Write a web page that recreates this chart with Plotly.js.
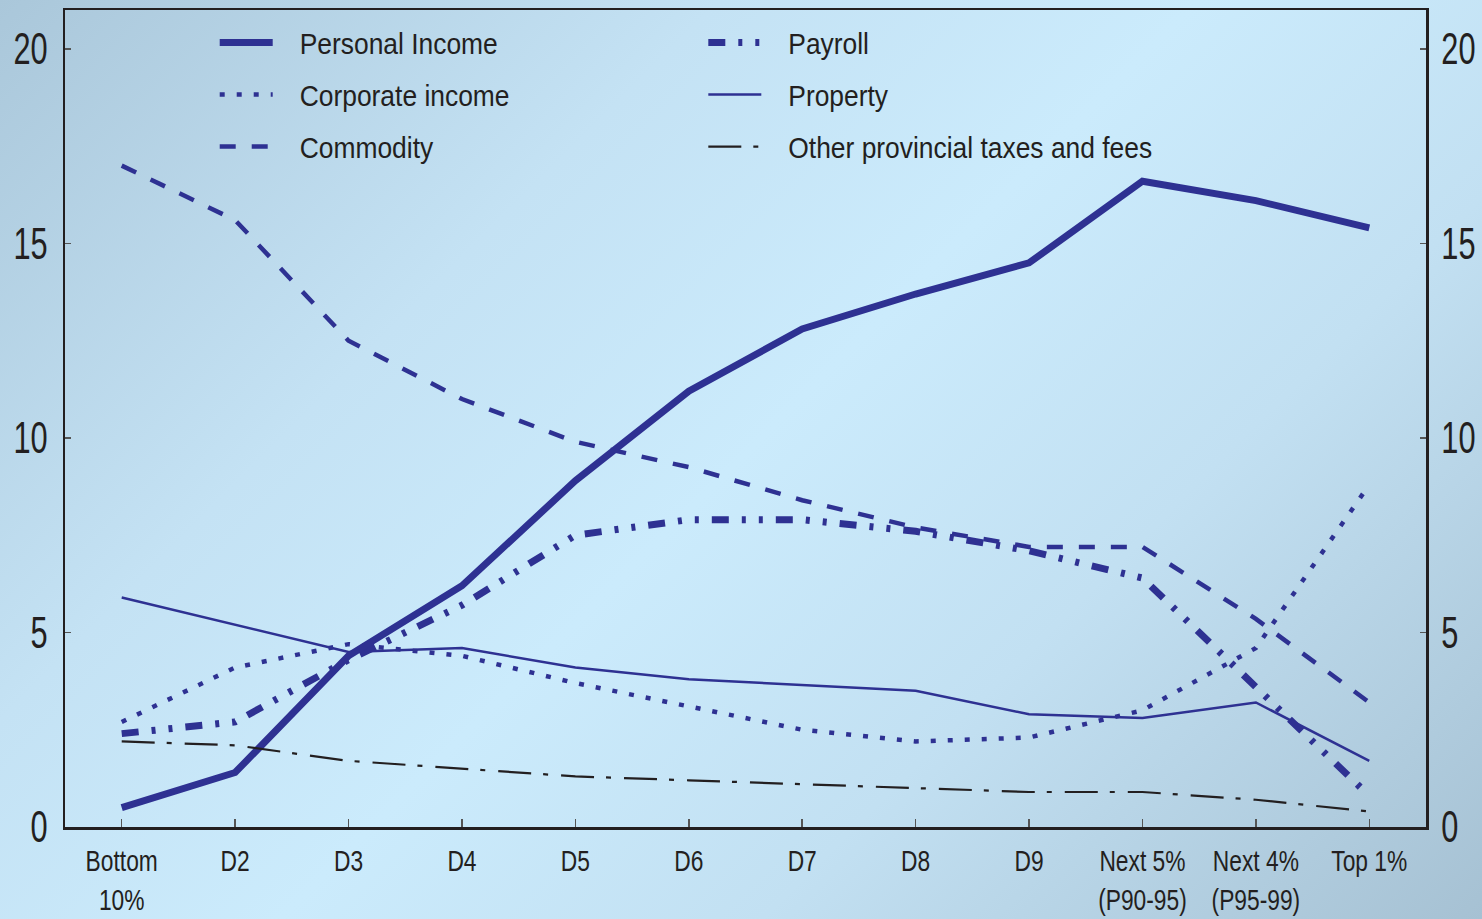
<!DOCTYPE html>
<html>
<head>
<meta charset="utf-8">
<script src="https://cdn.plot.ly/plotly-3.0.1.min.js"></script>
<style>
html,body{margin:0;padding:0;width:1482px;height:919px;overflow:hidden;
background:linear-gradient(135deg,#aac7da 0%,#c4e2f4 30%,#cbebfc 50%,#c2e0f2 70%,#a6c1d3 100%);}
#chart{width:1482px;height:919px;}
</style>
</head>
<body>
<div id="chart"></div>
<script>
const categories = ["Bottom<br>10%","D2","D3","D4","D5","D6","D7","D8","D9","Next 5%<br>(P90-95)","Next 4%<br>(P95-99)","Top 1%"];
const personalIncome = [0.5, 1.4, 4.4, 6.2, 8.9, 11.2, 12.8, 13.7, 14.5, 16.6, 16.1, 15.4];
const payroll        = [2.4, 2.7, 4.3, 5.7, 7.5, 7.9, 7.9, 7.6, 7.1, 6.4, 3.6, 0.8];
const corporate      = [2.7, 4.1, 4.7, 4.4, 3.7, 3.1, 2.5, 2.2, 2.3, 3.0, 4.6, 8.8];
const property       = [5.9, 5.2, 4.5, 4.6, 4.1, 3.8, 3.65, 3.5, 2.9, 2.8, 3.2, 1.7];
const commodity      = [17.0, 15.6, 12.5, 11.0, 9.9, 9.25, 8.4, 7.7, 7.2, 7.2, 5.35, 3.2];
const otherTaxes     = [2.2, 2.1, 1.7, 1.5, 1.3, 1.2, 1.1, 1.0, 0.9, 0.9, 0.7, 0.4];
const yTicks = [0, 5, 10, 15, 20];

const BLUE = '#2e3192';
const DARK = '#231f20';
const FONT = 'Liberation Sans, Arial, sans-serif';

const traces = [
  {name:'Commodity', y:commodity, legend:'legend', legendrank:3, line:{color:BLUE, width:4.5, dash:'16px,16px'}},
  {name:'Property', y:property, legend:'legend2', legendrank:2, line:{color:BLUE, width:2.5}},
  {name:'Corporate income', y:corporate, legend:'legend', legendrank:2, line:{color:BLUE, width:4.5, dash:'5px,12px'}},
  {name:'Payroll', y:payroll, legend:'legend2', legendrank:1, line:{color:BLUE, width:7, dash:'17px,13px,4px,13px,4px,13px'}},
  {name:'Personal Income', y:personalIncome, legend:'legend', legendrank:1, line:{color:BLUE, width:7}},
  {name:'Other provincial taxes and fees', y:otherTaxes, yaxis:'y2', legend:'legend2', legendrank:3, line:{color:DARK, width:2.2, dash:'33px,12px,5px,13px'}}
].map((t,i) => Object.assign({type:'scatter', mode:'lines', x:categories, hoverinfo:'skip', legendgroup:'g'+i}, t));

const axisY = {
  range:[0, 21], tickvals:yTicks, ticks:'inside', ticklen:6, tickwidth:1.5, tickcolor:'#555',
  showgrid:false, zeroline:false, showline:true, linecolor:DARK, linewidth:2.5,
  tickfont:{family:FONT, size:44, color:DARK}, fixedrange:true
};

const legendBase = {orientation:'v', xanchor:'left', y:0.992, yanchor:'top',
  bgcolor:'rgba(0,0,0,0)', font:{family:FONT, size:30, color:DARK},
  itemwidth:53, tracegroupgap:10, traceorder:'grouped'};

const layout = {
  width:1482, height:919,
  margin:{l:65, r:56, t:10, b:92},
  paper_bgcolor:'rgba(0,0,0,0)', plot_bgcolor:'rgba(0,0,0,0)',
  font:{family:FONT, color:DARK},
  showlegend:true,
  legend:Object.assign({}, legendBase, {x:0.110}),
  legend2:Object.assign({}, legendBase, {x:0.469}),
  xaxis:{type:'category', range:[-0.5, 11.5], tickangle:0, ticks:'inside', ticklen:8, tickwidth:1.5, tickcolor:'#555',
    showgrid:false, zeroline:false, showline:true, mirror:true, linecolor:DARK, linewidth:2.5,
    tickfont:{family:FONT, size:30, color:DARK}, ticklabelstandoff:6, fixedrange:true},
  yaxis:Object.assign({}, axisY, {side:'left', ticklabelstandoff:6}),
  yaxis2:Object.assign({}, axisY, {side:'right', overlaying:'y', anchor:'x', matches:'y', ticklabelstandoff:4})
};

function squeeze(sel, s, dx){
  document.querySelectorAll(sel).forEach(t => {
    const prev = t.getAttribute('transform') || '';
    if (prev.indexOf('scale(') >= 0) return;
    const X = parseFloat(t.getAttribute('x')) || 0;
    t.setAttribute('transform', prev + ' translate(' + (X*(1-s)+dx) + ',0) scale(' + s + ',1)');
  });
}
function squeezeAll(){
  squeeze('#chart .xtick text', 0.76, 0);
  squeeze('#chart .ytick text', 0.7, 0);
  squeeze('#chart .y2tick text', 0.7, 0);
  squeeze('#chart text.legendtext, #chart text.legend2text', 0.88, 22);
}

const gd = document.getElementById('chart');
const obs = new MutationObserver(squeezeAll);
obs.observe(gd, {childList:true, subtree:true, attributes:true, attributeFilter:['transform','x']});
Plotly.newPlot(gd, traces, layout, {displayModeBar:false, staticPlot:true}).then(() => {
  squeezeAll();
  setTimeout(squeezeAll, 50);
});
</script>
</body>
</html>
